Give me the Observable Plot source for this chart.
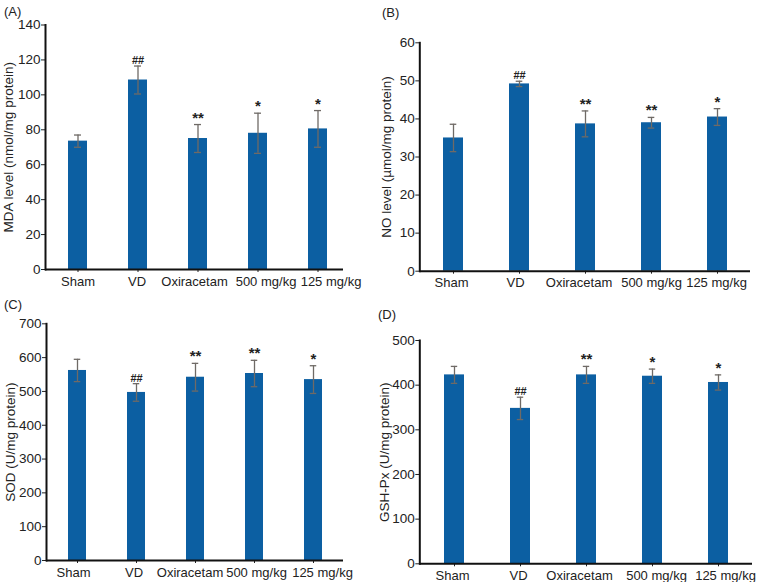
<!DOCTYPE html>
<html>
<head>
<meta charset="utf-8">
<script src="https://cdn.jsdelivr.net/npm/d3@7"></script>
<script src="https://cdn.jsdelivr.net/npm/@observablehq/plot@0.6"></script>
<style>
  html, body { margin: 0; padding: 0; background: #fff; }
  #wrap { position: relative; width: 760px; height: 582px; overflow: hidden; font-family: "Liberation Sans", Arial, sans-serif; color: #222; }
  .panel { position: absolute; }
  .lab { position: absolute; font-size: 13px; line-height: 1; }
</style>
</head>
<body>
<div id="wrap"></div>
<script>
// ---- data ----
const groups = ["Sham", "VD", "Oxiracetam", "500 mg/kg", "125 mg/kg"];

const mdaMean = [73.5, 108.5, 75, 78, 80.5];
const mdaSd   = [3.5, 8, 8, 11.5, 10.5];
const mdaSig  = ["", "##", "**", "*", "*"];

const noMean = [35, 49.2, 38.7, 39, 40.5];
const noSd   = [3.6, 0.7, 3.4, 1.4, 2.2];
const noSig  = ["", "##", "**", "**", "*"];

const sodMean = [562, 497, 542, 553, 535];
const sodSd   = [33, 26, 41, 39, 41];
const sodSig  = ["", "##", "**", "**", "*"];

const gshMean = [423, 348, 423, 420, 406];
const gshSd   = [19, 25, 19, 16, 17];
const gshSig  = ["", "##", "**", "*", "*"];

const mdaTicks = [0, 20, 40, 60, 80, 100, 120, 140];
const noTicks  = [0, 10, 20, 30, 40, 50, 60];
const sodTicks = [0, 100, 200, 300, 400, 500, 600, 700];
const gshTicks = [0, 100, 200, 300, 400, 500];

const barColor = "#0c5fa2";
const errColor = "#6f6a66";

const wrap = document.getElementById("wrap");

function panel(cfg) {
  const data = groups.map((g, i) => ({g, m: cfg.means[i], s: cfg.sds[i], sig: cfg.sig[i]}));
  const pi = 1 - cfg.bw / cfg.step;
  const cap = cfg.bw / 2 - 3.5;
  // x-axis tick labels: one axis mark per category (slight horizontal nudges as in the original)
  const xLabelAxes = groups.map((g, i) =>
    Plot.axisX([g], {tickSize: 0, tickPadding: 7, fontSize: 13, label: null, dx: cfg.nudge[i]}));
  const chart = Plot.plot({
    width: cfg.width, height: cfg.height,
    marginLeft: cfg.ml, marginRight: cfg.mr, marginTop: cfg.mt, marginBottom: cfg.mb,
    style: {background: "transparent", fontFamily: "Liberation Sans, Arial, sans-serif", fontSize: "13px", color: "#222", overflow: "visible"},
    x: {domain: groups, range: cfg.xr, paddingInner: pi, paddingOuter: pi / 2, axis: null},
    y: {domain: cfg.yDomain, axis: null},
    marks: [
      Plot.barY(data, {x: "g", y: "m", fill: barColor}),
      Plot.ruleX(data, {x: "g", y1: d => d.m - d.s, y2: d => d.m + d.s, stroke: errColor, strokeWidth: 1.3}),
      Plot.tickY(data, {x: "g", y: d => d.m + d.s, stroke: errColor, strokeWidth: 1.3, insetLeft: cap, insetRight: cap}),
      Plot.tickY(data, {x: "g", y: d => d.m - d.s, stroke: errColor, strokeWidth: 1.3, insetLeft: cap, insetRight: cap}),
      Plot.text(data, {x: "g", y: d => d.m + d.s, text: "sig", dy: -2, lineAnchor: "bottom",
        fontSize: d => d.sig.startsWith("#") ? 11 : 15, fontWeight: "bold", fill: "#222"}),
      Plot.axisY({ticks: cfg.yTicks, tickSize: 4, tickPadding: 1, fontSize: 13.5, label: cfg.yLabel, labelAnchor: "center", labelOffset: cfg.lo, labelArrow: "none"}),
      Plot.axisX({tickSize: 3, tickFormat: () => "", label: null}),
      ...xLabelAxes,
      Plot.ruleY([0], {stroke: "#111", strokeWidth: 2}),
      Plot.frame({anchor: "left", stroke: "#111", strokeWidth: 2})
    ]
  });
  const div = document.createElement("div");
  div.className = "panel";
  div.style.left = cfg.left + "px";
  div.style.top = cfg.top + "px";
  div.appendChild(chart);
  wrap.appendChild(div);
  const lab = document.createElement("div");
  lab.className = "lab";
  lab.textContent = cfg.tag;
  lab.style.left = cfg.tagX + "px";
  lab.style.top = cfg.tagY + "px";
  wrap.appendChild(lab);
}

panel({tag: "(A)", tagX: 4, tagY: 5, left: 0, top: 0, width: 380, height: 300,
  means: mdaMean, sds: mdaSd, sig: mdaSig, yDomain: [0, 140], yTicks: mdaTicks,
  yLabel: "MDA level (nmol/mg protein)", ml: 45, mr: 37, mt: 24.5, mb: 31, lo: 42.5,
  xr: [45.6, 349.4], step: 60.75, bw: 19, nudge: [0, -1, -3.5, 8, 13]});

panel({tag: "(B)", tagX: 382, tagY: 6, left: 380, top: 0, width: 380, height: 300,
  means: noMean, sds: noSd, sig: noSig, yDomain: [0, 60], yTicks: noTicks,
  yLabel: "NO level (µmol/mg protein)", ml: 39.3, mr: 10, mt: 42.3, mb: 29.3, lo: 38.8,
  xr: [38.6, 372.4], step: 66.75, bw: 20.4, nudge: [-2, -4, -6.5, 0, -1]});

panel({tag: "(C)", tagX: 4, tagY: 298, left: 0, top: 290, width: 380, height: 292,
  means: sodMean, sds: sodSd, sig: sodSig, yDomain: [0, 700], yTicks: sodTicks,
  yLabel: "SOD (U/mg protein)", ml: 46, mr: 37, mt: 33.3, mb: 22, lo: 41.5,
  xr: [46.2, 344.3], step: 59.6, bw: 18.5, nudge: [-4, -2.5, -5.5, 2, 9]});

panel({tag: "(D)", tagX: 378, tagY: 308, left: 380, top: 290, width: 380, height: 292,
  means: gshMean, sds: gshSd, sig: gshSig, yDomain: [0, 500], yTicks: gshTicks,
  yLabel: "GSH-Px (U/mg protein)", ml: 39.3, mr: 8, mt: 50, mb: 18.7, lo: 40.8,
  xr: [38.6, 373.2], step: 66.9, bw: 20.6, nudge: [-2, -2, -7, 4, 7]});
</script>
</body>
</html>
